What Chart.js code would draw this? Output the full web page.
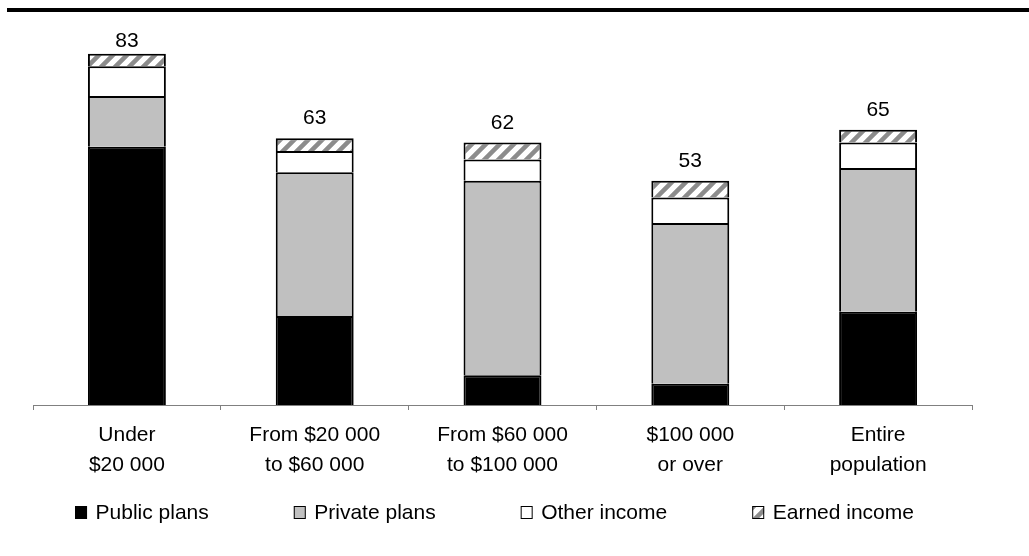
<!DOCTYPE html>
<html>
<head>
<meta charset="utf-8">
<script src="https://cdn.jsdelivr.net/npm/chart.js@4.4.1/dist/chart.umd.min.js"></script>
<style>
  html, body { margin: 0; padding: 0; background: #fff; }
  #wrap { width: 1029px; height: 556px; position: relative; }
</style>
</head>
<body>
<div id="wrap"><canvas id="incomeChart" width="1029" height="556"></canvas></div>
<script>
// categories and values
var categories = [
	["Under", "$20 000"],
	["From $20 000", "to $60 000"],
	["From $60 000", "to $100 000"],
	["$100 000", "or over"],
	["Entire", "population"]
];
var publicPlans  = [61, 21, 7, 5, 22];
var privatePlans = [12, 34, 46, 38, 34];
var otherIncome  = [7, 5, 5, 6, 6];
var earnedIncome = [3, 3, 4, 4, 3];
var totals       = [83, 63, 62, 53, 65];

var FONT = "'Liberation Sans', Arial, sans-serif";

// diagonal hatch for earned income
function makeHatch() {
	var c = document.createElement("canvas");
	c.width = 14; c.height = 14;
	var g = c.getContext("2d");
	g.fillStyle = "#fff";
	g.fillRect(0, 0, 14, 14);
	g.strokeStyle = "#8c8c8c";
	g.lineWidth = 4.5;
	g.beginPath();
	g.moveTo(-2, 16); g.lineTo(16, -2);
	g.moveTo(-9, 9); g.lineTo(9, -9);
	g.moveTo(5, 23); g.lineTo(23, 5);
	g.stroke();
	return g.createPattern(c, "repeat");
}
var hatch = makeHatch();

// thick rule at the top of the figure
var topRule = {
	id: "topRule",
	beforeDraw: function(chart) {
		var ctx = chart.ctx;
		ctx.save();
		ctx.fillStyle = "#000";
		ctx.fillRect(7, 8, chart.width - 7, 4);
		ctx.restore();
	}
};

// total above each stack
var totalLabels = {
	id: "totalLabels",
	afterDatasetsDraw: function(chart) {
		var ctx = chart.ctx;
		var yScale = chart.scales.y;
		var meta = chart.getDatasetMeta(chart.data.datasets.length - 1);
		ctx.save();
		ctx.font = "21px " + FONT;
		ctx.fillStyle = "#000";
		ctx.textAlign = "center";
		ctx.textBaseline = "alphabetic";
		for (var i = 0; i < totals.length; i++) {
			var y = yScale.getPixelForValue(totals[i]) - 14;
			y = Math.max(y, chart.chartArea.top + 23);
			ctx.fillText(String(totals[i]), meta.data[i].x, y);
		}
		ctx.restore();
	}
};

// legend drawn by hand so the spacing can match
var customLegend = {
	id: "customLegend",
	afterDraw: function(chart) {
		var ctx = chart.ctx;
		var sets = chart.data.datasets;
		ctx.save();
		ctx.font = "21px " + FONT;
		var box = 12, gapText = 8.5, gapItem = 85;
		var widths = sets.map(function(ds) {
			return box + gapText + ctx.measureText(ds.label).width;
		});
		var total = widths.reduce(function(a, b) { return a + b; }, 0) + gapItem * (sets.length - 1);
		var x = 494.5 - total / 2;
		sets.forEach(function(ds, i) {
			ctx.fillStyle = ds.backgroundColor;
			ctx.fillRect(x, 506, box, 13);
			ctx.strokeStyle = "#000";
			ctx.lineWidth = 1;
			ctx.strokeRect(x + 0.5, 506.5, box - 1, 12);
			ctx.fillStyle = "#000";
			ctx.textAlign = "left";
			ctx.textBaseline = "alphabetic";
			ctx.fillText(ds.label, x + box + gapText, 518.5);
			x += widths[i] + gapItem;
		});
		ctx.restore();
	}
};

function series(label, data, color) {
	return {
		label: label,
		data: data,
		backgroundColor: color,
		borderColor: "#000",
		borderWidth: 2,
		barPercentage: 0.415,
		categoryPercentage: 1
	};
}

new Chart(document.getElementById("incomeChart"), {
	type: "bar",
	data: {
		labels: categories,
		datasets: [
			series("Public plans", publicPlans, "#000"),
			series("Private plans", privatePlans, "#c0c0c0"),
			series("Other income", otherIncome, "#fff"),
			series("Earned income", earnedIncome, hatch)
		]
	},
	options: {
		responsive: false,
		animation: false,
		layout: { padding: { left: 33, right: 57, top: 24, bottom: 0 } },
		plugins: {
			legend: { display: false },
			tooltip: { enabled: false },
			title: { display: false }
		},
		scales: {
			x: {
				stacked: true,
				grid: { drawOnChartArea: false, offset: true, tickLength: 5, color: "#808080" },
				border: { color: "#808080", width: 1 },
				ticks: {
					color: "#000",
					padding: 11,
					maxRotation: 0,
					font: { family: FONT, size: 21, lineHeight: 1.4 }
				},
				afterFit: function(scale) { scale.height = 151; }
			},
			y: {
				stacked: true,
				display: false,
				min: 0,
				max: 90
			}
		}
	},
	plugins: [topRule, totalLabels, customLegend]
});
</script>
</body>
</html>
